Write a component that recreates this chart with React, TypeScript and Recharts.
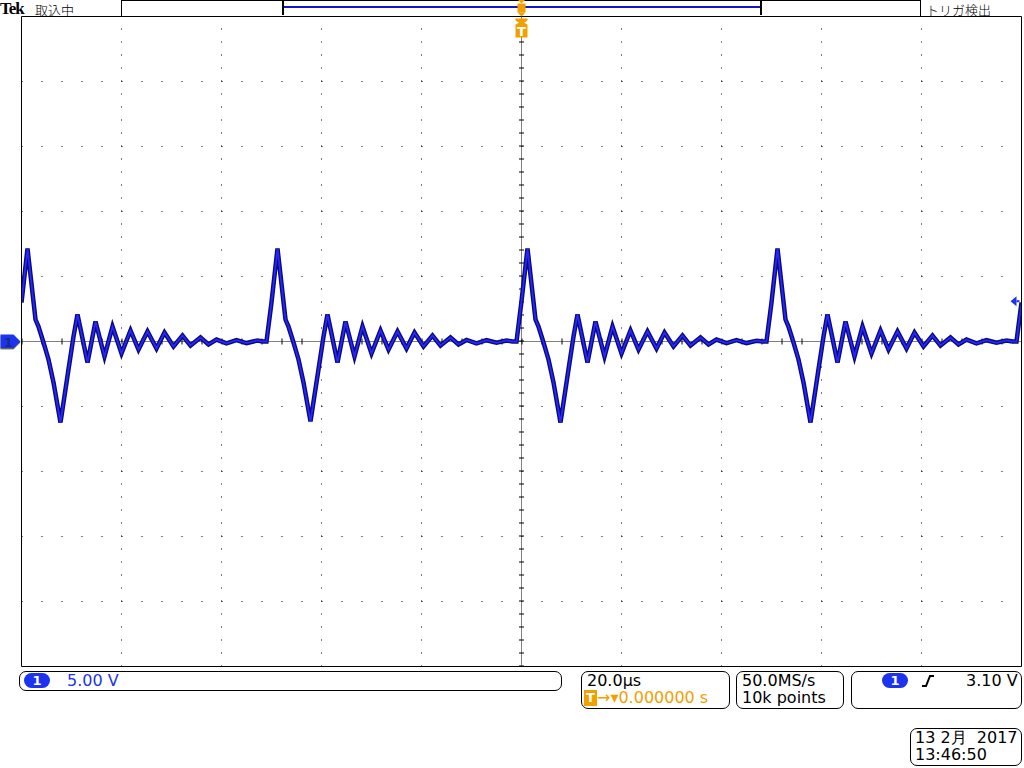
import { LineChart, Line, XAxis, YAxis, ReferenceLine, ReferenceDot } from 'recharts';

// scope capture: 20 us/div, 5 V/div, trigger ch1 rising at 3.10 V
const pulse1Time = [-100, -98.8, -97.2, -96.6, -95.6, -94.6, -93.6, -92.2, -90.6, -89.6, -88.8, -86.8, -85.2, -83.4, -81.8, -80.0, -78.2, -76.6, -74.8, -73.0, -71.4, -69.6, -67.8, -66.2, -64.2, -62.6, -61, -59, -57, -55, -52.8, -51.8];
const pulse1Volts = [3.0, 7.15, 1.69, 1.15, -0.08, -1.38, -3.15, -6.23, -2.15, 0.38, 2.08, -1.62, 1.54, -1.15, 1.15, -0.92, 0.85, -0.62, 0.77, -0.54, 0.69, -0.38, 0.46, -0.31, 0.31, -0.23, 0.15, -0.15, 0.1, -0.12, 0.08, 0];

const pulse2Time = [-51, -50, -48.8, -47.2, -46.6, -45.6, -44.6, -43.6, -42.2, -40.6, -39.6, -38.8, -36.8, -35.2, -33.4, -31.8, -30.0, -28.2, -26.6, -24.8, -23.0, -21.4, -19.6, -17.8, -16.2, -14.2, -12.6, -11, -9, -7, -5, -3, -1.8];
const pulse2Volts = [0, 3.0, 7.15, 1.69, 1.15, -0.08, -1.38, -3.15, -6.15, -2.15, 0.38, 2.08, -1.62, 1.54, -1.15, 1.15, -0.92, 0.85, -0.62, 0.77, -0.54, 0.69, -0.38, 0.46, -0.31, 0.31, -0.23, 0.12, -0.15, 0.1, -0.1, 0.08, 0];

const pulse3Time = [-1, 0, 1.2, 2.8, 3.4, 4.4, 5.4, 6.4, 7.8, 9.4, 10.4, 11.2, 13.2, 14.8, 16.6, 18.2, 20.0, 21.8, 23.4, 25.2, 27.0, 28.6, 30.4, 32.2, 33.8, 35.8, 37.4, 39, 41, 43, 45, 47, 48.2];
const pulse3Volts = [0, 3.1, 7.15, 1.69, 1.15, -0.08, -1.38, -3.15, -6.23, -2.15, 0.38, 2.08, -1.62, 1.54, -1.15, 1.15, -0.92, 0.85, -0.62, 0.77, -0.54, 0.69, -0.38, 0.46, -0.31, 0.31, -0.23, 0.15, -0.12, 0.1, -0.12, 0.06, 0];

const pulse4Time = [49, 50, 51.2, 52.8, 53.4, 54.4, 55.4, 56.4, 57.8, 59.4, 60.4, 61.2, 63.2, 64.8, 66.6, 68.2, 70.0, 71.8, 73.4, 75.2, 77.0, 78.6, 80.4, 82.2, 83.8, 85.8, 87.4, 89, 91, 93, 95, 97, 98.2, 99, 100];
const pulse4Volts = [0, 3.0, 7.15, 1.69, 1.15, -0.08, -1.38, -3.15, -6.23, -2.15, 0.38, 2.08, -1.62, 1.54, -1.15, 1.15, -0.92, 0.85, -0.62, 0.77, -0.54, 0.69, -0.38, 0.46, -0.31, 0.31, -0.23, 0.15, -0.15, 0.1, -0.1, 0.08, 0, 0, 3.0];

const divTimes = [-80, -60, -40, -20, 20, 40, 60, 80];
const divVolts = [-20, -15, -10, -5, 5, 10, 15, 20];
const minorTimeTicks = Array.from({ length: 51 }, (_, i) => -100 + i * 4);
const minorVoltTicks = Array.from({ length: 51 }, (_, i) => -25 + i);
const triggerLevel = 3.1;

const pulses = [
  [pulse1Time, pulse1Volts],
  [pulse2Time, pulse2Volts],
  [pulse3Time, pulse3Volts],
  [pulse4Time, pulse4Volts],
];
const data = pulses.flatMap(([ts, vs]) => ts.map((t, i) => ({ t, v: vs[i] })));

const ORANGE = '#f2a000';
const BLUE = '#1c34f0';

const box = (left: number, top: number, width: number, height: number): React.CSSProperties => ({
  position: 'absolute', left, top, width, height, boxSizing: 'border-box',
  border: '1px solid #000', borderRadius: 7,
});

const Pill = ({ left, top }: { left: number; top: number }) => (
  <div style={{ position: 'absolute', left, top, width: 26, height: 15, borderRadius: 8, background: BLUE, color: '#fff', fontSize: 13, fontWeight: 'bold', textAlign: 'center', lineHeight: '15px' }}>1</div>
);

export default function App() {
  const txt: React.CSSProperties = { position: 'absolute', fontSize: 16, lineHeight: '18px', whiteSpace: 'pre', color: '#000' };
  const head: React.CSSProperties = { ...txt, top: 0, lineHeight: '19px', fontFamily: '"Noto Sans CJK JP", sans-serif', fontWeight: 300, fontSize: 13 };
  return (
    <div style={{ position: 'absolute', left: 0, top: 0, width: 1024, height: 768, background: '#fff', overflow: 'hidden', fontFamily: '"DejaVu Sans", sans-serif' }}>
      {/* header */}
      <div style={{ ...txt, left: 0, top: 1, lineHeight: '15px', fontFamily: '"Liberation Serif", serif', fontWeight: 'bold', fontSize: 17, letterSpacing: -1 }}>Tek</div>
      <div style={{ ...head, left: 35 }}>取込中</div>
      <div style={{ position: 'absolute', left: 121, top: 0, width: 800, height: 16, boxSizing: 'border-box', border: '1px solid #000', borderBottom: 'none' }} />
      <div style={{ position: 'absolute', left: 283, top: 6, width: 478, height: 2, background: '#1515c8' }} />
      <div style={{ position: 'absolute', left: 282, top: 1, width: 2, height: 14, background: '#000' }} />
      <div style={{ position: 'absolute', left: 760, top: 1, width: 2, height: 14, background: '#000' }} />
      <div style={{ ...head, left: 926 }}>トリガ検出</div>

      <LineChart width={1024} height={768} data={data} margin={{ top: 16.5, right: 2.5, bottom: 101.5, left: 21.5 }} style={{ position: 'absolute', left: 0, top: 0 }}>
        <XAxis xAxisId="b" dataKey="t" type="number" domain={[-100, 100]} ticks={minorTimeTicks} interval={0} orientation="bottom" mirror tick={false} tickSize={3} stroke="#000" allowDataOverflow />
        <XAxis xAxisId="t" dataKey="t" type="number" domain={[-100, 100]} ticks={minorTimeTicks} interval={0} orientation="top" mirror tick={false} tickSize={3} stroke="#000" allowDataOverflow />
        <YAxis yAxisId="l" type="number" domain={[-25, 25]} ticks={minorVoltTicks} interval={0} orientation="left" mirror tick={false} tickSize={2} stroke="#000" allowDataOverflow />
        <YAxis yAxisId="r" type="number" domain={[-25, 25]} ticks={minorVoltTicks} interval={0} orientation="right" mirror tick={false} tickSize={2} stroke="#000" allowDataOverflow />

        {divTimes.map((t) => (
          <ReferenceLine key={'x' + t} xAxisId="b" yAxisId="l" x={t} stroke="#000" strokeDasharray="1 12" />
        ))}
        {divVolts.map((v) => (
          <ReferenceLine key={'y' + v} xAxisId="b" yAxisId="l" y={v} stroke="#000" strokeDasharray="1 19" />
        ))}
        <ReferenceLine xAxisId="b" yAxisId="l" y={0} stroke="#000" strokeDasharray="1 1" />
        <ReferenceLine xAxisId="b" yAxisId="l" y={0} stroke="#000" strokeWidth={6} strokeDasharray="1 19" />
        <ReferenceLine xAxisId="b" yAxisId="l" x={0} stroke="#000" strokeDasharray="1 1" />
        <ReferenceLine xAxisId="b" yAxisId="l" x={0} stroke="#000" strokeWidth={5} strokeDasharray="1 12" />

        <Line xAxisId="b" yAxisId="l" dataKey="v" type="linear" stroke="#0a0a78" strokeWidth={4.5} dot={false} isAnimationActive={false} />
        <Line xAxisId="b" yAxisId="l" dataKey="v" type="linear" stroke="#2626ff" strokeWidth={1.8} dot={false} isAnimationActive={false} />

        {/* ground marker */}
        <ReferenceDot xAxisId="b" yAxisId="l" x={-100} y={0} ifOverflow="visible" shape={(p: any) => (
          <g>
            <polygon points={`${p.cx - 21},${p.cy - 6} ${p.cx - 8},${p.cy - 6} ${p.cx - 1},${p.cy + 1} ${p.cx - 8},${p.cy + 8} ${p.cx - 21},${p.cy + 8}`} fill="#8a8a30" />
            <polygon points={`${p.cx - 21},${p.cy - 7} ${p.cx - 8},${p.cy - 7} ${p.cx - 1},${p.cy} ${p.cx - 8},${p.cy + 7} ${p.cx - 21},${p.cy + 7}`} fill={BLUE} />
            <text x={p.cx - 13} y={p.cy + 5} textAnchor="middle" fontSize={13} fontWeight="bold" fill="#1a2a80" fontFamily="DejaVu Sans">1</text>
          </g>
        )} />
        {/* trigger level */}
        <ReferenceDot xAxisId="b" yAxisId="l" x={100} y={triggerLevel} ifOverflow="visible" shape={(p: any) => (
          <g>
            <polygon points={`${p.cx - 11},${p.cy} ${p.cx - 5},${p.cy - 5} ${p.cx - 5},${p.cy + 5}`} fill={BLUE} />
            <rect x={p.cx - 5} y={p.cy - 1} width={3} height={2} fill={BLUE} />
          </g>
        )} />
        {/* trigger position */}
        <ReferenceDot xAxisId="b" yAxisId="l" x={0} y={25} ifOverflow="visible" shape={(p: any) => (
          <g>
            <polygon points={`${p.cx - 4},${p.cy - 17} ${p.cx + 4},${p.cy - 17} ${p.cx},${p.cy - 13}`} fill={ORANGE} />
            <rect x={p.cx - 4} y={p.cy - 13} width={8} height={9} fill={ORANGE} />
            <polygon points={`${p.cx - 4},${p.cy - 4} ${p.cx + 4},${p.cy - 4} ${p.cx},${p.cy}`} fill={ORANGE} />
            <polygon points={`${p.cx - 6},${p.cy + 2} ${p.cx + 6},${p.cy + 2} ${p.cx + 6},${p.cy + 4} ${p.cx},${p.cy + 8} ${p.cx - 6},${p.cy + 4}`} fill={ORANGE} />
            <polygon points={`${p.cx - 6},${p.cy + 8} ${p.cx},${p.cy + 5} ${p.cx + 6},${p.cy + 8} ${p.cx + 6},${p.cy + 21} ${p.cx - 6},${p.cy + 21}`} fill={ORANGE} />
            <text x={p.cx} y={p.cy + 19} textAnchor="middle" fontSize={13} fontWeight="bold" fill="#fff" fontFamily="DejaVu Sans">T</text>
          </g>
        )} />
      </LineChart>

      {/* status bar */}
      <div style={box(19, 671, 543, 20)} />
      <Pill left={24} top={673} />
      <div style={{ ...txt, left: 67, top: 672, color: BLUE }}>5.00 V</div>

      <div style={box(581, 671, 149, 38)} />
      <div style={{ ...txt, left: 587, top: 672 }}>20.0µs</div>
      <div style={{ position: 'absolute', left: 584, top: 690, width: 13, height: 16, background: ORANGE, color: '#fff', fontSize: 13, fontWeight: 'bold', textAlign: 'center', lineHeight: '16px' }}>T</div>
      <div style={{ ...txt, left: 597, top: 689, color: ORANGE }}>→▾0.000000 s</div>

      <div style={box(736, 671, 108, 38)} />
      <div style={{ ...txt, left: 742, top: 672 }}>50.0MS/s</div>
      <div style={{ ...txt, left: 742, top: 689 }}>10k points</div>

      <div style={box(851, 671, 171, 38)} />
      <Pill left={882} top={673} />
      <svg style={{ position: 'absolute', left: 920, top: 674 }} width={16} height={14}>
        <path d="M2 12 L6 12 L10 2 L14 2" stroke="#000" strokeWidth={2} fill="none" />
      </svg>
      <div style={{ ...txt, left: 966, top: 672 }}>3.10 V</div>

      <div style={box(910, 728, 112, 38)} />
      <div style={{ ...txt, left: 915, top: 729 }}>13 2月  2017</div>
      <div style={{ ...txt, left: 915, top: 746 }}>13:46:50</div>
    </div>
  );
}
